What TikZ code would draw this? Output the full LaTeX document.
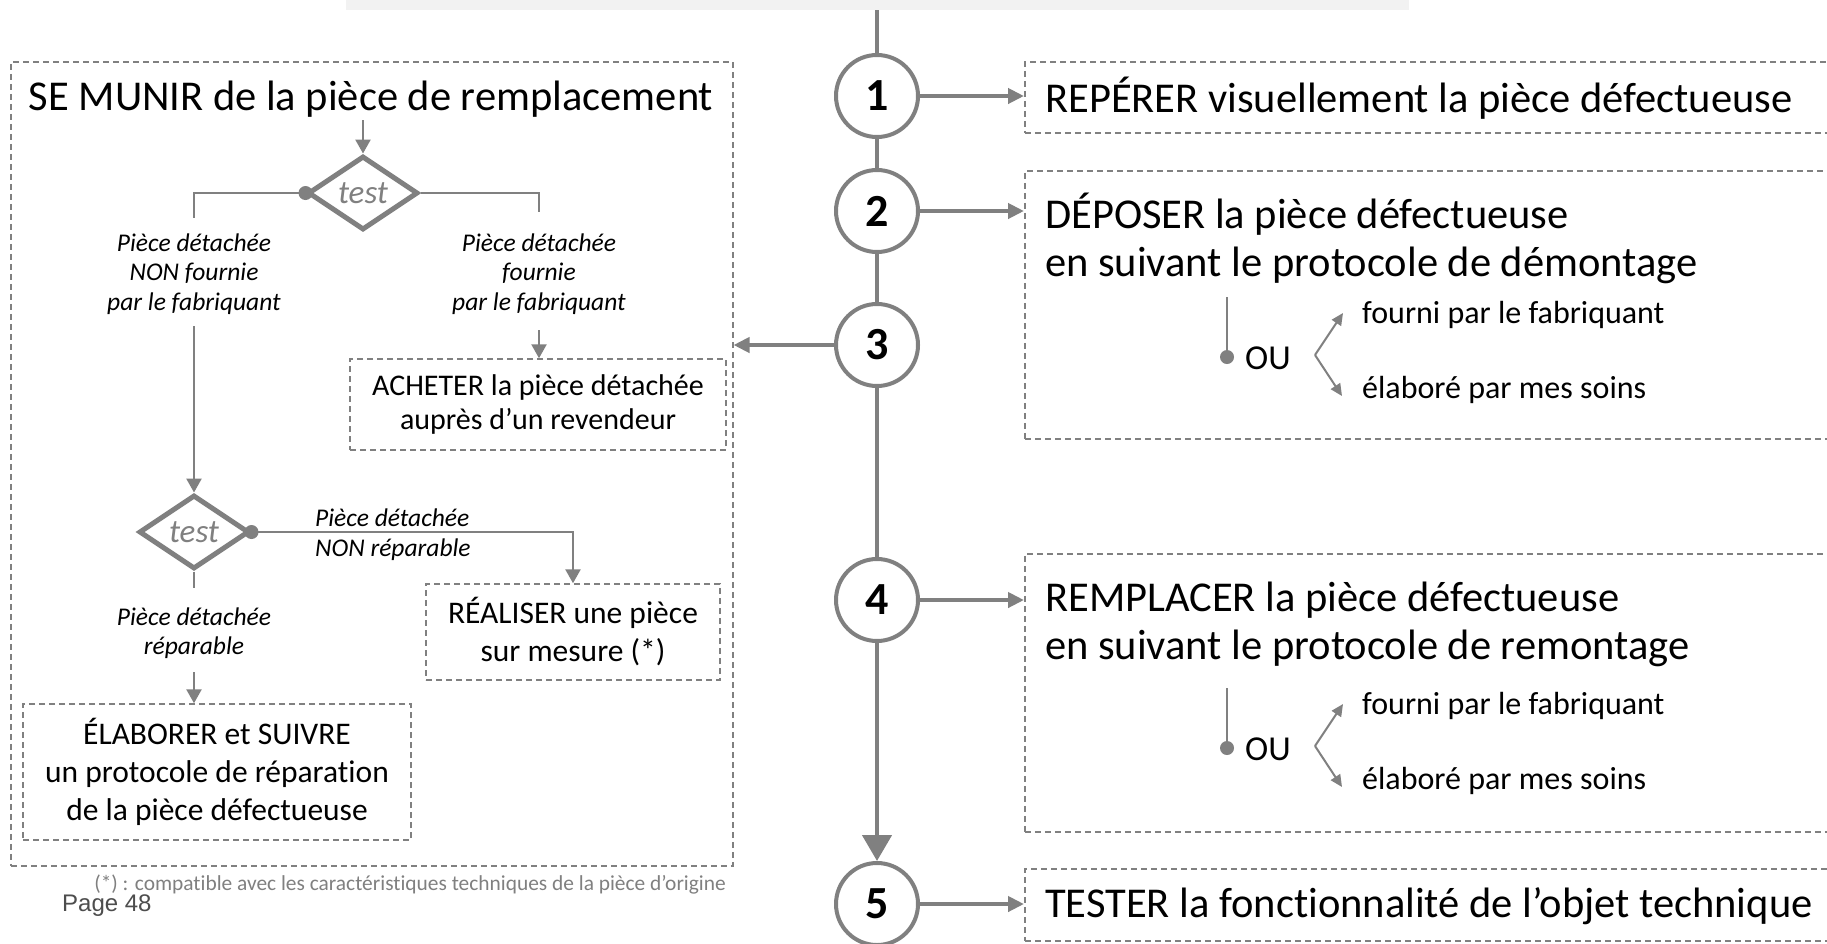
\documentclass[tikz,border=0pt]{standalone}
\usepackage{fontspec}
\setmainfont{Carlito}[Ligatures=NoCommon]
\newfontfamily\pagefont{Liberation Sans}
\usetikzlibrary{arrows.meta,shapes.geometric}
\definecolor{lgray}{HTML}{808080}
\definecolor{bargray}{HTML}{F2F2F2}
\definecolor{pagegray}{HTML}{4D4D4D}
\newcommand{\fsz}[2]{\fontsize{#1}{#2}\selectfont}
\begin{document}
\begin{tikzpicture}[x=1pt,y=-1pt,
  dbox/.style={draw=lgray, line width=1.5pt, dash pattern=on 6pt off 4pt, inner sep=0pt},
  stepc/.style={circle, draw=lgray, line width=4pt, fill=white, minimum size=82pt, inner sep=0pt, font=\bfseries\fsz{46}{46}},
  axisl/.style={draw=lgray, line width=4.5pt},
  harrow/.style={draw=lgray, line width=4.5pt, -{Triangle[length=16pt,width=15pt]}},
  thinl/.style={draw=lgray, line width=2pt},
  tarrow/.style={draw=lgray, line width=2.5pt, -{Triangle[length=14pt,width=15pt]}},
  testd/.style={diamond, draw=lgray, line width=5pt, minimum width=110pt, minimum height=74pt, inner sep=0pt, text=lgray, font=\itshape\fsz{33}{33}},
  dotn/.style={circle, fill=lgray, minimum size=14pt, inner sep=0pt},
  lab/.style={inner sep=0pt, align=center, font=\itshape\fsz{25.5}{29.5}},
  bigt/.style={inner sep=0pt, font=\fsz{42.5}{48}},
  midt/.style={inner sep=0pt, font=\fsz{32}{38}},
  oua/.style={draw=lgray, line width=2pt, -{Triangle[length=12pt,width=11pt]}},
]
\clip (0,0) rectangle (1827,943);
\fill[white] (0,0) rectangle (1827,943);
\node[fill=bargray, anchor=north west, minimum width=1063pt, minimum height=10pt, inner sep=0pt] (bar) at (346,0) {};

% ---- main axis ----
\node[stepc] (c1) at (877,96) {1};
\node[stepc] (c2) at (877,211) {2};
\node[stepc] (c3) at (877,345) {3};
\node[stepc] (c4) at (877,600) {4};
\node[stepc] (c5) at (877,904) {5};
\coordinate (axtop) at (877,10);
\draw[axisl] (axtop) -- (c1);
\draw[axisl] (c1) -- (c2);
\draw[axisl] (c2) -- (c3);
\draw[axisl] (c3) -- (c4);
\draw[axisl, -{Triangle[length=26pt,width=29pt]}] (c4) -- (c5);

% ---- right boxes ----
\node[dbox, anchor=north west, minimum width=900pt, minimum height=71pt] (b1) at (1024,61) {};
\node[dbox, anchor=north west, minimum width=900pt, minimum height=268pt] (b2) at (1024,170) {};
\node[dbox, anchor=north west, minimum width=900pt, minimum height=278pt] (b4) at (1024,553) {};
\node[dbox, anchor=north west, minimum width=900pt, minimum height=72pt] (b5) at (1024,868) {};

\node[bigt, anchor=base west] (t1) at (1045,112) {REPÉRER visuellement la pièce défectueuse};
\node[bigt, anchor=base west, align=left] (t2) at (1045,276) {DÉPOSER la pièce défectueuse\\en suivant le protocole de démontage};
\node[bigt, anchor=base west, align=left] (t4) at (1045,659) {REMPLACER la pièce défectueuse\\en suivant le protocole de remontage};
\node[bigt, anchor=base west] (t5) at (1045,917) {TESTER la fonctionnalité de l’objet technique};

\draw[harrow] (c1) -- (c1 -| b1.west);
\draw[harrow] (c2) -- (c2 -| b2.west);
\draw[harrow] (c4) -- (c4 -| b4.west);
\draw[harrow] (c5) -- (c5 -| b5.west);

% ---- OU (box 2) ----
\coordinate (ou2top) at (1227,297);
\node[dotn] (ou2dot) at (1227,357) {};
\draw[thinl] (ou2top) -- (ou2dot);
\node[inner sep=0pt, anchor=base west, font=\fsz{35}{35}] (ou2) at (1245,369) {OU};
\coordinate (ap2) at (1315,355);
\coordinate (ar2a) at (1343,313);
\coordinate (ar2b) at (1342,396);
\draw[oua] (ap2) -- (ar2a);
\draw[oua] (ap2) -- (ar2b);
\node[midt, anchor=base west] (f2) at (1362,323) {fourni par le fabriquant};
\node[midt, anchor=base west] (e2) at (1362,398) {élaboré par mes soins};

% ---- OU (box 4) ----
\coordinate (ou4top) at (1227,688);
\node[dotn] (ou4dot) at (1227,748) {};
\draw[thinl] (ou4top) -- (ou4dot);
\node[inner sep=0pt, anchor=base west, font=\fsz{35}{35}] (ou4) at (1245,760) {OU};
\coordinate (ap4) at (1315,746);
\coordinate (ar4a) at (1343,704);
\coordinate (ar4b) at (1342,787);
\draw[oua] (ap4) -- (ar4a);
\draw[oua] (ap4) -- (ar4b);
\node[midt, anchor=base west] (f4) at (1362,714) {fourni par le fabriquant};
\node[midt, anchor=base west] (e4) at (1362,789) {élaboré par mes soins};

% ---- left big box ----
\node[dbox, anchor=north west, minimum width=722pt, minimum height=804pt] (big) at (10,61) {};
\draw[harrow] (c3) -- (c3 -| big.east);

\node[bigt, anchor=base] (title) at (371,110) {SE MUNIR de la pièce de remplacement};
\coordinate (tarr) at (363,120);
\node[testd] (d1) at (363,193) {test};
\draw[tarrow] (tarr) -- (d1.north);
\coordinate (s1) at (194,218);
\coordinate (s3) at (539,212);
\draw[thinl] (d1.west) -| (s1);
\draw[thinl] (d1.east) -| (s3);
\node[dotn] (d1dot) at (d1.west) {};
\node[lab] (l1) at (194,274) {Pièce détachée\\NON fournie\\par le fabriquant};
\node[lab] (l2) at (539,274) {Pièce détachée\\fournie\\par le fabriquant};

\coordinate (s4) at (539,330);
\node[dbox, minimum width=376pt, minimum height=91pt, align=center, font=\fsz{30}{34}] (ach) at (538,404.5) {ACHETER la pièce détachée\\auprès d’un revendeur};
\draw[tarrow] (s4) -- (s4 |- ach.north);

\coordinate (s2) at (194,326);
\node[testd] (d2) at (194,532) {test};
\draw[tarrow] (s2) -- (d2.north);
\node[dbox, minimum width=294pt, minimum height=96pt, align=center, font=\fsz{31.5}{38}] (real) at (573,632) {RÉALISER une pièce\\sur mesure (*)};
\draw[tarrow] (d2.east) -| (real.north);
\node[dotn] (d2dot) at (d2.east) {};
\node[lab, anchor=base west, align=left] (l3) at (315,556) {Pièce détachée\\NON réparable};

\coordinate (s5) at (194,588);
\draw[thinl] (d2.south) -- (s5);
\node[lab] (l4) at (194,633) {Pièce détachée\\réparable};
\coordinate (s6) at (194,672);
\node[dbox, minimum width=388pt, minimum height=136pt, align=center, font=\fsz{31.5}{38}] (elab) at (217,772) {ÉLABORER et SUIVRE\\un protocole de réparation\\de la pièce défectueuse};
\draw[tarrow] (s6) -- (s6 |- elab.north);

% ---- footer ----
\node[inner sep=0pt, anchor=base east, text=lgray, font=\fsz{21.4}{24}] (foot) at (726,890) {(*) : compatible avec les caractéristiques techniques de la pièce d’origine};
\node[inner sep=0pt, anchor=base west, text=pagegray, font=\pagefont\fsz{24}{26}] (page) at (62,911) {Page 48};
\end{tikzpicture}
\end{document}
